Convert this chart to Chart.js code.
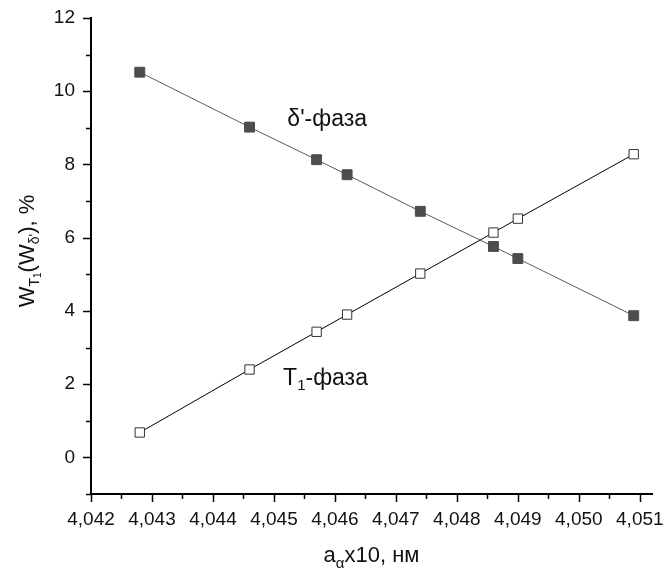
<!DOCTYPE html>
<html>
<head>
<meta charset="utf-8">
<script src="https://cdn.jsdelivr.net/npm/chart.js@4/dist/chart.umd.min.js"></script>
<style>
html, body { margin: 0; padding: 0; background: #fff; }
</style>
</head>
<body>
<canvas id="chart" width="665" height="575"></canvas>
<script>
// lattice parameter a_alpha x10, nm (shared by both series)
const latticeA = [4.0428, 4.0446, 4.0457, 4.0462, 4.0474, 4.0486, 4.0490, 4.0509];
// delta'-phase share, %
const deltaPhase = [10.52, 9.02, 8.13, 7.72, 6.72, 5.76, 5.43, 3.87];
// T1-phase share, %
const t1Phase = [0.68, 2.40, 3.43, 3.90, 5.02, 6.14, 6.52, 8.28];

const xTicks = [4.042, 4.043, 4.044, 4.045, 4.046, 4.047, 4.048, 4.049, 4.050, 4.051];
const yTicks = [0, 2, 4, 6, 8, 10, 12];

// where the phase names sit, in data units (left edge, baseline)
const deltaLabelAt = { x: 4.04522, y: 9.05 };
const t1LabelAt = { x: 4.04515, y: 1.98 };

const FONT = '"Liberation Sans", Arial, sans-serif';

function pts(ys) {
  return latticeA.map((x, i) => ({ x: x, y: ys[i] }));
}

function isMajor(v, list) {
  return list.some(t => Math.abs(t - v) < 1e-7);
}

// draw a run of text pieces with sub/superscripts
function richText(ctx, parts, x, y, align) {
  let total = 0;
  parts.forEach(p => {
    ctx.font = p.size + 'px ' + FONT;
    p.w = ctx.measureText(p.t).width;
    total += p.w;
  });
  let cx = align === 'center' ? x - total / 2 : x;
  ctx.textAlign = 'left';
  ctx.textBaseline = 'alphabetic';
  parts.forEach(p => {
    ctx.font = p.size + 'px ' + FONT;
    ctx.fillText(p.t, cx, y + (p.dy || 0));
    cx += p.w;
  });
}

const extras = {
  id: 'extras',
  afterDraw(chart) {
    const ctx = chart.ctx;
    const xs = chart.scales.x, ys = chart.scales.y;
    const area = chart.chartArea;
    ctx.save();
    ctx.strokeStyle = '#000';
    ctx.lineWidth = 1.5;
    // tick marks, long ones at labelled values
    xs.ticks.forEach(t => {
      const px = Math.round(xs.getPixelForValue(t.value)) + 0.5;
      const len = isMajor(t.value, xTicks) ? 8 : 5;
      ctx.beginPath();
      ctx.moveTo(px, area.bottom);
      ctx.lineTo(px, area.bottom + len);
      ctx.stroke();
    });
    ys.ticks.forEach(t => {
      const py = Math.round(ys.getPixelForValue(t.value)) + 0.5;
      const len = isMajor(t.value, yTicks) ? 8 : 5;
      ctx.beginPath();
      ctx.moveTo(area.left, py);
      ctx.lineTo(area.left - len, py);
      ctx.stroke();
    });

    ctx.fillStyle = '#111';
    // x title
    richText(ctx, [
      { t: 'a', size: 22 },
      { t: 'α', size: 15, dy: 6 },
      { t: 'x10, нм', size: 22 }
    ], (area.left + area.right) / 2, 562, 'center');

    // y title, rotated
    ctx.save();
    ctx.translate(34, (area.top + area.bottom) / 2 - 5);
    ctx.rotate(-Math.PI / 2);
    richText(ctx, [
      { t: 'W', size: 22 },
      { t: 'T', size: 14, dy: 5 },
      { t: '1', size: 10, dy: 7 },
      { t: '(W', size: 22 },
      { t: 'δ\'', size: 14, dy: 5 },
      { t: '), %', size: 22 }
    ], 0, 0, 'center');
    ctx.restore();

    // phase names
    richText(ctx, [{ t: 'δ\'-фаза', size: 23 }],
      xs.getPixelForValue(deltaLabelAt.x), ys.getPixelForValue(deltaLabelAt.y), 'left');
    richText(ctx, [
      { t: 'T', size: 23 },
      { t: '1', size: 15, dy: 5 },
      { t: '-фаза', size: 23 }
    ], xs.getPixelForValue(t1LabelAt.x), ys.getPixelForValue(t1LabelAt.y), 'left');
    ctx.restore();
  }
};

new Chart(document.getElementById('chart'), {
  type: 'scatter',
  data: {
    datasets: [
      {
        label: "δ'-фаза",
        data: pts(deltaPhase),
        showLine: true,
        borderColor: '#5a5a5a',
        borderWidth: 1,
        backgroundColor: '#4d4d4d',
        pointStyle: 'rect',
        pointRadius: 7,
        pointBorderWidth: 1,
        pointBorderColor: '#4d4d4d',
        pointBackgroundColor: '#4d4d4d'
      },
      {
        label: 'T1-фаза',
        data: pts(t1Phase),
        showLine: true,
        borderColor: '#000',
        borderWidth: 1,
        pointStyle: 'rect',
        pointRadius: 6.6,
        pointBorderWidth: 1,
        pointBorderColor: '#333',
        pointBackgroundColor: '#fff'
      }
    ]
  },
  options: {
    responsive: false,
    animation: false,
    layout: { padding: { top: 18, right: 13, left: 0, bottom: 0 } },
    plugins: {
      legend: { display: false },
      tooltip: { enabled: false }
    },
    scales: {
      x: {
        type: 'linear',
        min: 4.042,
        max: 4.0512,
        afterFit(scale) {
          scale.height = 81;
          scale.paddingLeft = 0;
          scale.paddingRight = 0;
        },
        border: { display: true, color: '#000', width: 2 },
        grid: { display: true, drawOnChartArea: false, drawTicks: false },
        ticks: {
          stepSize: 0.0005,
          includeBounds: false,
          autoSkip: false,
          maxRotation: 0,
          minRotation: 0,
          padding: 14,
          color: '#111',
          font: { family: FONT, size: 19 },
          callback: v => isMajor(v, xTicks) ? v.toFixed(3).replace('.', ',') : ''
        }
      },
      y: {
        min: -1,
        max: 12,
        afterFit(scale) {
          scale.width = 91;
          scale.paddingTop = 0;
          scale.paddingBottom = 0;
        },
        border: { display: true, color: '#000', width: 2 },
        grid: { display: true, drawOnChartArea: false, drawTicks: false },
        ticks: {
          stepSize: 1,
          autoSkip: false,
          padding: 16,
          color: '#111',
          font: { family: FONT, size: 19 },
          callback: v => isMajor(v, yTicks) ? String(v) : ''
        }
      }
    }
  },
  plugins: [extras]
});
</script>
</body>
</html>
